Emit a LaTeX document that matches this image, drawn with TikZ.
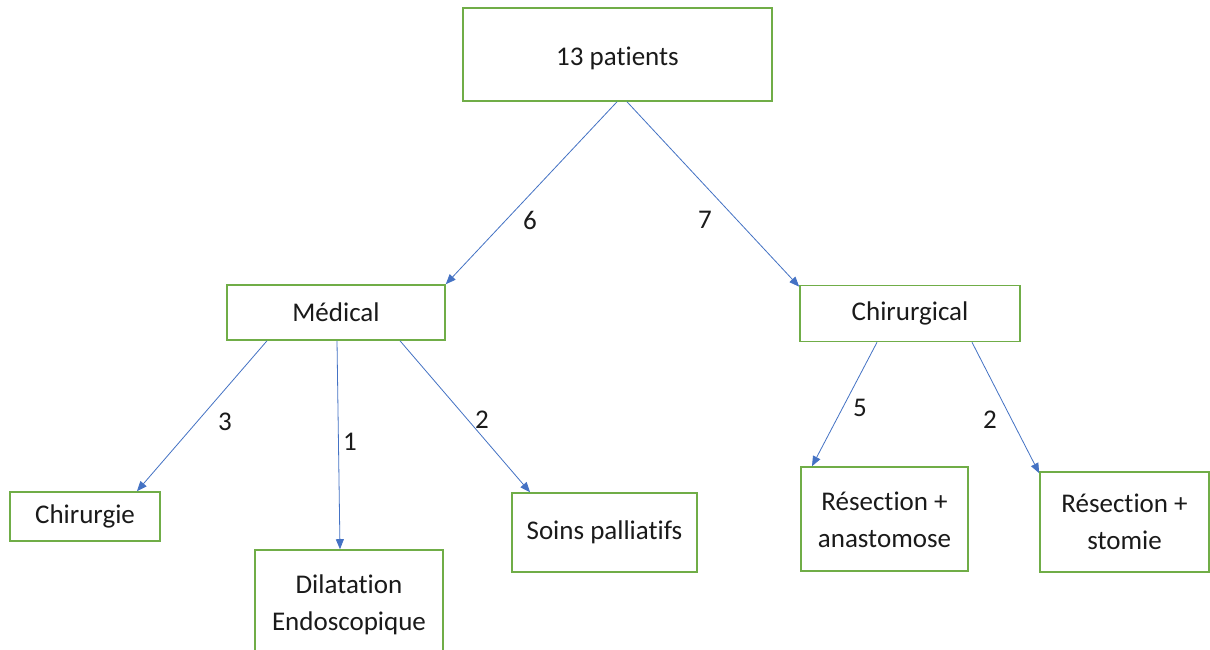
\documentclass[tikz,border=0pt]{standalone}
\usepackage{fontspec}
\setmainfont{Carlito}[RawFeature={-liga;-clig;-dlig;-calt;-rlig}]
\usetikzlibrary{arrows.meta}
\definecolor{boxgreen}{HTML}{70AD47}
\definecolor{arrblue}{HTML}{4472C4}
\definecolor{txt}{HTML}{1A1A1A}
\begin{document}
\begin{tikzpicture}[x=1pt,y=-1pt,
  box/.style={draw=boxgreen,line width=1.6pt,fill=white,text=txt,align=center,
    inner sep=0pt,font=\fontsize{27}{37}\selectfont},
  conn/.style={draw=arrblue,line width=0.8pt,-{Triangle[length=10pt,width=8pt]}},
  lbl/.style={text=txt,inner sep=0pt,font=\fontsize{27}{32}\selectfont}]
\useasboundingbox (0,0) rectangle (1210,650);
\fill[white] (0,0) rectangle (1210,650);
\node[box,minimum width=309pt,minimum height=93pt] (top) at (617.5,54.5) {\raisebox{-4pt}[\height][\depth]{13 patients}};
\node[box,minimum width=218pt,minimum height=55pt] (med) at (336,312.5) {Médical};
\node[box,minimum width=220pt,minimum height=56pt] (chir) at (910,313.5) {Chirurgical};
\node[box,minimum width=150pt,minimum height=49pt] (chg) at (85,516.5) {Chirurgie};
\node[box,minimum width=188pt,minimum height=110pt] (dil) at (349,605) {Dilatation\\Endoscopique};
\node[box,minimum width=185pt,minimum height=79pt] (soins) at (604.5,532.5) {Soins palliatifs};
\node[box,minimum width=167pt,minimum height=104pt] (ana) at (884.5,519) {\raisebox{-3pt}[\height][\depth]{\begin{tabular}{@{}c@{}}Résection +\\anastomose\end{tabular}}};
\node[box,minimum width=169pt,minimum height=100pt] (sto) at (1124.5,522) {\raisebox{-2pt}[\height][\depth]{\begin{tabular}{@{}c@{}}Résection +\\stomie\end{tabular}}};
\draw[conn] ([xshift=-0.5pt]top.south) -- (med.north east);
\draw[conn] ([xshift=9.5pt]top.south) -- ([yshift=-2pt]chir.north west);
\draw[conn] ([xshift=-69pt]med.south) -- ([xshift=52pt]chg.north);
\draw[conn] ([xshift=1pt]med.south) -- ([xshift=-9pt]dil.north);
\draw[conn] ([xshift=64pt]med.south) -- ([xshift=-74.5pt]soins.north);
\draw[conn] ([xshift=-33pt]chir.south) -- ([xshift=-72.5pt]ana.north);
\draw[conn] ([xshift=62pt]chir.south) -- ([yshift=-2pt]sto.north west);
\node[lbl] (l6) at (530,220) {6};
\node[lbl] (l7) at (705,220) {7};
\node[lbl] (l3) at (225,422) {3};
\node[lbl] (l1) at (350,442) {1};
\node[lbl] (l2a) at (482,420) {2};
\node[lbl] (l5) at (860,408) {5};
\node[lbl] (l2b) at (990,420) {2};
\end{tikzpicture}
\end{document}
